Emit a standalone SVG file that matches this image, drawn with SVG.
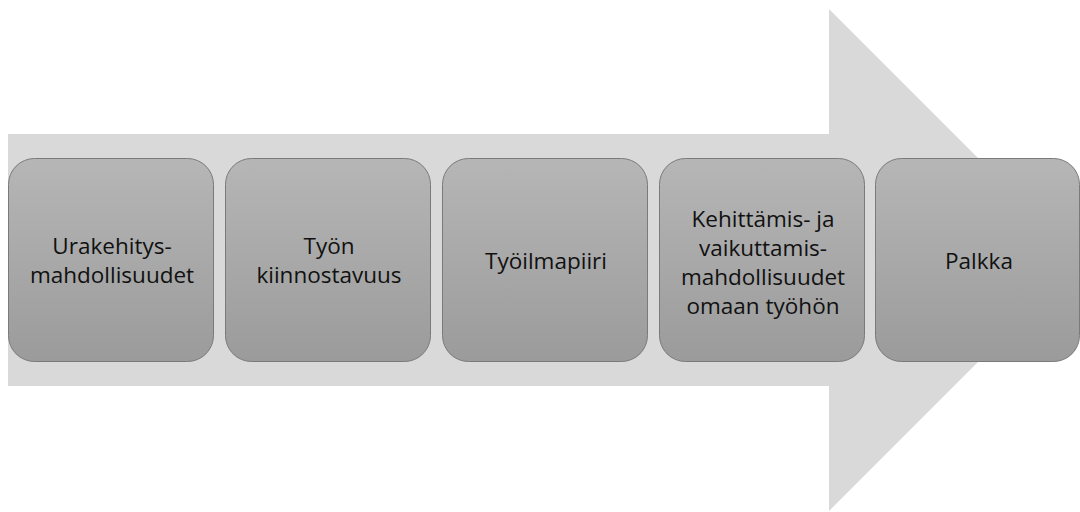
<svg xmlns="http://www.w3.org/2000/svg" width="1080" height="512" viewBox="0 0 1080 512">
  <style>
    .box { fill: url(#boxFill); stroke: #7a7a7a; stroke-width: 1; }
    .label { font-family: "Open Sans", "Liberation Sans", sans-serif; font-size: 22.5px; fill: #111111; text-anchor: middle; }
  </style>
  <defs>
    <linearGradient id="boxFill" x1="0" y1="0" x2="0" y2="1">
      <stop offset="0" stop-color="#b6b6b6"/>
      <stop offset="1" stop-color="#9b9b9b"/>
    </linearGradient>
  </defs>

  <!-- background process arrow -->
  <polygon id="flow-arrow" points="8,134 829,134 829,9 1080,260 829,511 829,386 8,386" fill="#d9d9d9"/>

  <g id="step1">
    <rect class="box" x="8.5" y="158.5" width="205" height="203" rx="26"/>
    <text class="label" x="112" y="254">Urakehitys-</text>
    <text class="label" x="112" y="283">mahdollisuudet</text>
  </g>

  <g id="step2">
    <rect class="box" x="225.5" y="158.5" width="205" height="203" rx="26"/>
    <text class="label" x="329" y="254">Työn</text>
    <text class="label" x="329" y="283">kiinnostavuus</text>
  </g>

  <g id="step3">
    <rect class="box" x="442.5" y="158.5" width="205" height="203" rx="26"/>
    <text class="label" x="546" y="269">Työilmapiiri</text>
  </g>

  <g id="step4">
    <rect class="box" x="659.5" y="158.5" width="205" height="203" rx="26"/>
    <text class="label" x="763" y="227">Kehittämis- ja</text>
    <text class="label" x="763" y="256">vaikuttamis-</text>
    <text class="label" x="763" y="285">mahdollisuudet</text>
    <text class="label" x="763" y="314">omaan työhön</text>
  </g>

  <g id="step5">
    <rect class="box" x="875.5" y="158.5" width="204" height="203" rx="26"/>
    <text class="label" x="979" y="269">Palkka</text>
  </g>

  <g id="connectors"/>
</svg>
